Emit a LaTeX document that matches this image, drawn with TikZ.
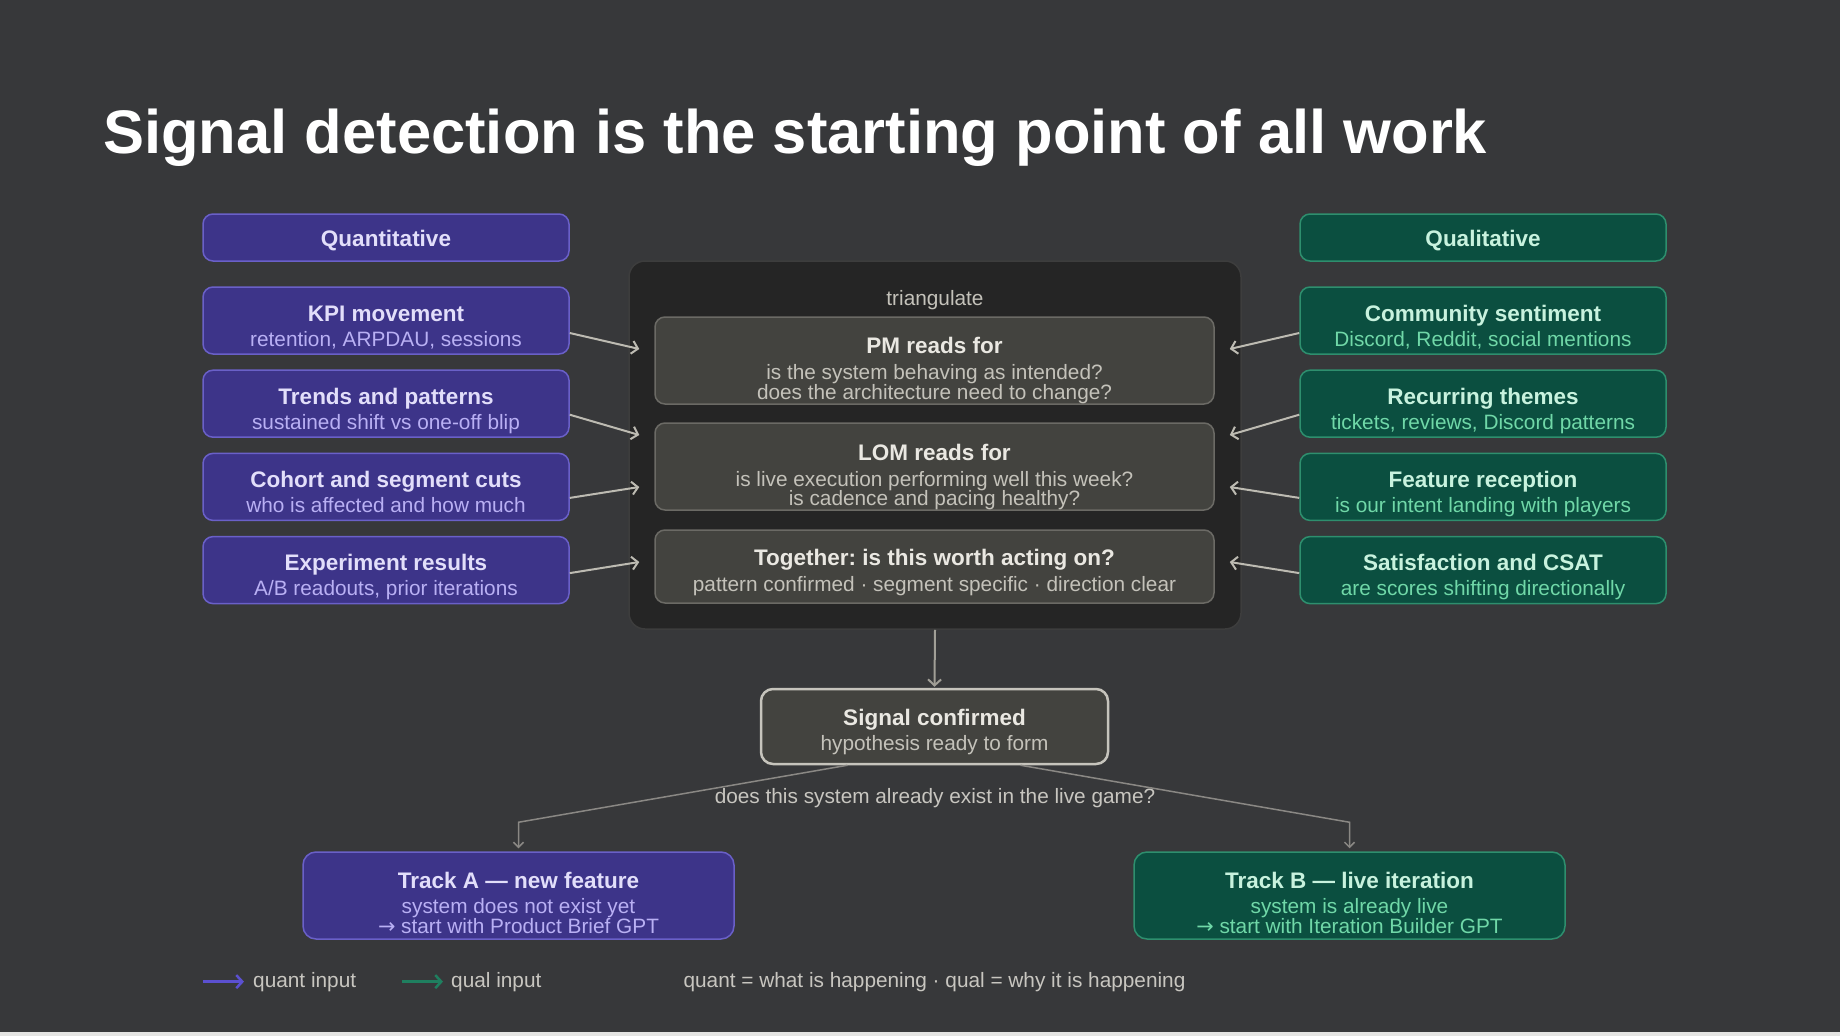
\documentclass[tikz,border=0pt]{standalone}
\usepackage{fontspec}
\setmainfont{Liberation Sans}
\newfontfamily\arrowfont{DejaVu Sans}
\usepackage{xcolor}
\definecolor{pageBack}   {HTML}{37383A}
\definecolor{frameBack}  {HTML}{252525}
\definecolor{frameLine}  {HTML}{3D3D3D}
\definecolor{readBack}   {HTML}{43433F}
\definecolor{readLine}   {HTML}{6B6A65}
\definecolor{readText}   {HTML}{EAE8E2}
\definecolor{readSub}    {HTML}{C4C2BA}
\definecolor{sigLine}    {HTML}{C6C4BC}
\definecolor{quantBack}  {HTML}{3D3489}
\definecolor{quantLine}  {HTML}{6A60C8}
\definecolor{quantText}  {HTML}{E2DEFA}
\definecolor{quantSub}   {HTML}{B9B0F4}
\definecolor{quantArrow} {HTML}{5B50D0}
\definecolor{qualBack}   {HTML}{0B4F40}
\definecolor{qualLine}   {HTML}{2E8F6E}
\definecolor{qualText}   {HTML}{C8F2DE}
\definecolor{qualSub}    {HTML}{70D8A8}
\definecolor{qualArrow}  {HTML}{1F7F5F}
\definecolor{arrowGrey}  {HTML}{BDBBB2}
\definecolor{branchGrey} {HTML}{8A8884}
\definecolor{mutedtext}  {HTML}{C8C6C0}
\definecolor{stripGrey}  {HTML}{E4E4E2}
\usetikzlibrary{arrows.meta, calc}

\begin{document}
\frenchspacing
\begin{tikzpicture}[
    x=1pt, y=-1pt,
    every node/.style={font=\fontsize{20.8}{21}\selectfont, inner sep=0pt},
    box/.style={draw, rounded corners=10pt, line width=1.5pt,
                minimum width=366pt, minimum height=67pt},
    quant/.style={box, fill=quantBack, draw=quantLine},
    qual/.style={box, fill=qualBack, draw=qualLine},
    head/.style={minimum height=47pt},
    read/.style={box, fill=readBack, draw=readLine, minimum width=559pt},
    ttl/.style={font=\fontsize{22.5}{24}\selectfont\bfseries, anchor=base},
    subtxt/.style={anchor=base},
    arr/.style={-{Straight Barb[length=6pt,width=13pt]}, line width=2pt, arrowGrey},
    branch/.style={-{Straight Barb[length=5pt,width=10pt]}, line width=1.5pt, branchGrey},
    legarr/.style={-{Straight Barb[length=6pt,width=13pt]}, line width=2.5pt}
]
\useasboundingbox (0,0) rectangle (1840,1036);
\fill[pageBack] (0,0) rectangle (1840,1036);
\fill[stripGrey] (0,1032) rectangle (1840,1036);

% Title
\node[anchor=base west, font=\fontsize{61.5}{62}\selectfont\bfseries, text=white]
    (title) at (103,153) {Signal detection is the starting point of all work};

% Column heads
\node[quant, head] (quanthead) at (386,237.5) {};
\node[ttl, text=quantText] (quanthead-t) at (386,246) {Quantitative};
\node[qual, head] (qualhead) at (1483,237.5) {};
\node[ttl, text=qualText] (qualhead-t) at (1483,246) {Qualitative};

% Quantitative inputs
\foreach \i/\t/\s [evaluate=\i as \y using {320.5+83.2*(\i-1)}] in {
    1/KPI movement/{retention, ARPDAU, sessions},
    2/Trends and patterns/{sustained shift vs one-off blip},
    3/Cohort and segment cuts/{who is affected and how much},
    4/Experiment results/{A/B readouts, prior iterations}} {
    \node[quant] (q\i) at (386,\y) {};
    \node[ttl, text=quantText] (q\i-t) at (386,{\y+0.5}) {\t};
    \node[subtxt, text=quantSub] (q\i-s) at (386,{\y+25.5}) {\s};
}

% Qualitative inputs
\foreach \i/\t/\s [evaluate=\i as \y using {320.5+83.2*(\i-1)}] in {
    1/Community sentiment/{Discord, Reddit, social mentions},
    2/Recurring themes/{tickets, reviews, Discord patterns},
    3/Feature reception/{is our intent landing with players},
    4/Satisfaction and CSAT/{are scores shifting directionally}} {
    \node[qual] (l\i) at (1483,\y) {};
    \node[ttl, text=qualText] (l\i-t) at (1483,{\y+0.5}) {\t};
    \node[subtxt, text=qualSub] (l\i-s) at (1483,{\y+25.5}) {\s};
}

% Triangulation frame
\node[draw=frameLine, fill=frameBack, rounded corners=16pt, line width=1.5pt,
      minimum width=612pt, minimum height=368pt] (tri) at (935,445) {};
\node[subtxt, text=readSub] (tri-t) at (935,305) {triangulate};

\node[read, minimum height=87pt] (pm) at (934.5,360.5) {};
\node[ttl, text=readText] (pm-t) at (934.5,353) {PM reads for};
\node[subtxt, text=readSub] (pm-s1) at (934.5,379) {is the system behaving as intended?};
\node[subtxt, text=readSub] (pm-s2) at (934.5,399) {does the architecture need to change?};

\node[read, minimum height=87pt] (lom) at (934.5,466.5) {};
\node[ttl, text=readText] (lom-t) at (934.5,460) {LOM reads for};
\node[subtxt, text=readSub] (lom-s1) at (934.5,486) {is live execution performing well this week?};
\node[subtxt, text=readSub] (lom-s2) at (934.5,505) {is cadence and pacing healthy?};

\node[read, minimum height=73pt] (tog) at (934.5,566.5) {};
\node[ttl, text=readText] (tog-t) at (934.5,565) {Together: is this worth acting on?};
\node[subtxt, text=readSub] (tog-s) at (934.5,591)
    {pattern confirmed · segment specific · direction clear};

% Inputs into the frame
\foreach \i/\dy/\tgt/\ty in {1/12.5/pm/-11.5, 2/11/lom/-31.5, 3/11/lom/20.5, 4/3/tog/-4.5} {
    \draw[arr] ($(q\i.east)+(0,\dy)$) -- ($(\tgt.west)+(-15,\ty)$);
    \draw[arr] ($(l\i.west)+(0,\dy)$) -- ($(\tgt.east)+(15,\ty)$);
}

% Signal confirmed
\node[read, draw=sigLine, line width=2.5pt, minimum width=347pt, minimum height=75pt,
      rounded corners=12pt] (sig) at (934.5,726.5) {};
\node[ttl, text=readText] (sig-t) at (934.5,725) {Signal confirmed};
\node[subtxt, text=readSub] (sig-s) at (934.5,750) {hypothesis ready to form};
\draw[arr, arrowGrey!85!black, shorten >=1pt] (tri.south) -- (sig.north);

\node[subtxt, text=mutedtext] (ask) at (935,803) {does this system already exist in the live game?};

% Tracks
\node[quant, minimum width=431pt, minimum height=87pt, rounded corners=13pt]
    (trA) at (518.5,895.5) {};
\node[ttl, text=quantText] (trA-t) at (518.5,888) {Track A — new feature};
\node[subtxt, text=quantSub] (trA-s1) at (518.5,913) {system does not exist yet};
\node[subtxt, text=quantSub] (trA-s2) at (518.5,933) {{\arrowfont →} start with Product Brief GPT};

\node[qual, minimum width=431pt, minimum height=87pt, rounded corners=13pt]
    (trB) at (1349.5,895.5) {};
\node[ttl, text=qualText] (trB-t) at (1349.5,888) {Track B — live iteration};
\node[subtxt, text=qualSub] (trB-s1) at (1349.5,913) {system is already live};
\node[subtxt, text=qualSub] (trB-s2) at (1349.5,933) {{\arrowfont →} start with Iteration Builder GPT};

\draw[branch, shorten >=3pt] ($(sig.south)+(-87,0)$) -- ($(trA.north)+(0,-29)$) -- (trA.north);
\draw[branch, shorten >=3pt] ($(sig.south)+(86,0)$) -- ($(trB.north)+(0,-29)$) -- (trB.north);

% Legend
\node[subtxt, anchor=base west, text=mutedtext] (legQ) at (253,987) {quant input};
\coordinate (legQa) at ($(legQ.west)+(-50,0)$);
\draw[legarr, quantArrow, shorten >=9pt] (legQa) -- (legQ.west);
\node[subtxt, anchor=base west, text=mutedtext] (legL) at (451,987) {qual input};
\coordinate (legLa) at ($(legL.west)+(-49,0)$);
\draw[legarr, qualArrow, shorten >=8pt] (legLa) -- (legL.west);
\node[subtxt, text=mutedtext] (legNote) at (934.5,987)
    {quant = what is happening · qual = why it is happening};
\end{tikzpicture}
\end{document}
